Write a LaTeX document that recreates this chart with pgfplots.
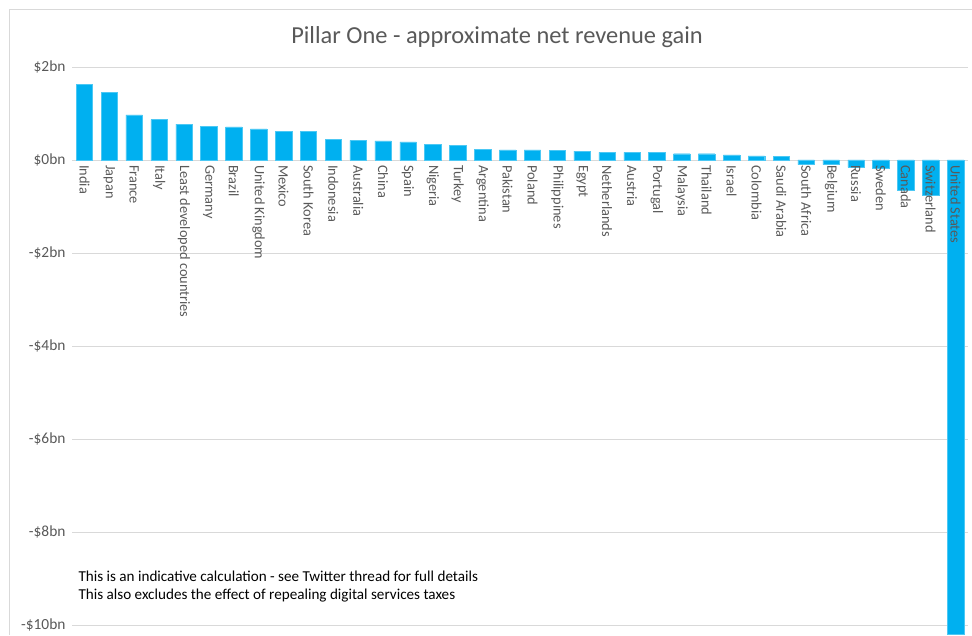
\documentclass[border=0pt]{standalone}
\usepackage{pgfplots}
\pgfplotsset{compat=1.18}
\usepackage{fontspec}
\setmainfont{Carlito}
\definecolor{barblue}{HTML}{00B0F0}
\definecolor{txtgray}{HTML}{595959}
\definecolor{gridgray}{HTML}{D9D9D9}
\pgfplotsset{pillar/.style={
    at={(72bp,10bp)}, anchor=south west,
    scale only axis, width=896bp, height=558bp,
    xmin=-0.5, xmax=35.5, ymin=-10, ymax=2,
    major tick length=0pt, clip=false}}
\begin{document}
\begin{tikzpicture}
% page frame, sized like the reference crop
\path (0,0) rectangle (972bp,635bp);
\draw[gridgray, line width=0.8bp] (9bp,0) -- (9bp,626bp) -- (971.5bp,626bp);
\node[txtgray, font=\fontsize{24.5}{28}\selectfont] at (497bp,598bp)
  {Pillar One - approximate net revenue gain};
% bars, grid and y labels
\begin{axis}[
    pillar,
    ybar, bar width=16.5bp,
    axis x line*=middle, axis y line*=left,
    x axis line style={draw=gridgray, line width=0.8bp, -},
    y axis line style={draw=none},
    ytick={-10,-8,-6,-4,-2,0,2},
    yticklabels={-\$10bn,-\$8bn,-\$6bn,-\$4bn,-\$2bn,\$0bn,\$2bn},
    ymajorgrids, major grid style={gridgray, line width=0.8bp},
    xtick=\empty,
    yticklabel style={font=\fontsize{15.5}{17}\selectfont, text=txtgray, xshift=-3bp},
  ]
\addplot[fill=barblue, draw=barblue!70!white, line width=0.4bp] coordinates {
  (0,1.63) (1,1.45) (2,0.97) (3,0.87) (4,0.77) (5,0.72) (6,0.71) (7,0.67)
  (8,0.62) (9,0.62) (10,0.45) (11,0.42) (12,0.41) (13,0.39) (14,0.33) (15,0.32)
  (16,0.23) (17,0.22) (18,0.22) (19,0.20) (20,0.19) (21,0.165) (22,0.165) (23,0.165)
  (24,0.135) (25,0.135) (26,0.11) (27,0.09) (28,0.08) (29,-0.10) (30,-0.10) (31,-0.16)
  (32,-0.17) (33,-0.66) (34,-0.76) (35,-10.2)
};
\end{axis}
% category labels, drawn over the bars
\begin{axis}[
    pillar,
    axis x line*=middle, axis y line*=left,
    x axis line style={draw=none}, y axis line style={draw=none},
    ytick=\empty,
    xtick={0,1,...,35},
    xticklabels={India,Japan,France,Italy,Least developed countries,Germany,Brazil,United Kingdom,Mexico,South Korea,Indonesia,Australia,China,Spain,Nigeria,Turkey,Argentina,Pakistan,Poland,Philippines,Egypt,Netherlands,Austria,Portugal,Malaysia,Thailand,Israel,Colombia,Saudi Arabia,South Africa,Belgium,Russia,Sweden,Canada,Switzerland,United States},
    xticklabel style={yshift=-5bp, rotate=-90, anchor=west, font=\fontsize{14.4}{16}\selectfont, text=txtgray, inner sep=0pt},
  ]
\end{axis}
\node[anchor=west, align=left, text=black, font=\fontsize{15.2}{18}\selectfont] at (75bp,48bp)
  {This is an indicative calculation - see Twitter thread for full details\\
   This also excludes the effect of repealing digital services taxes};
\end{tikzpicture}
\end{document}
